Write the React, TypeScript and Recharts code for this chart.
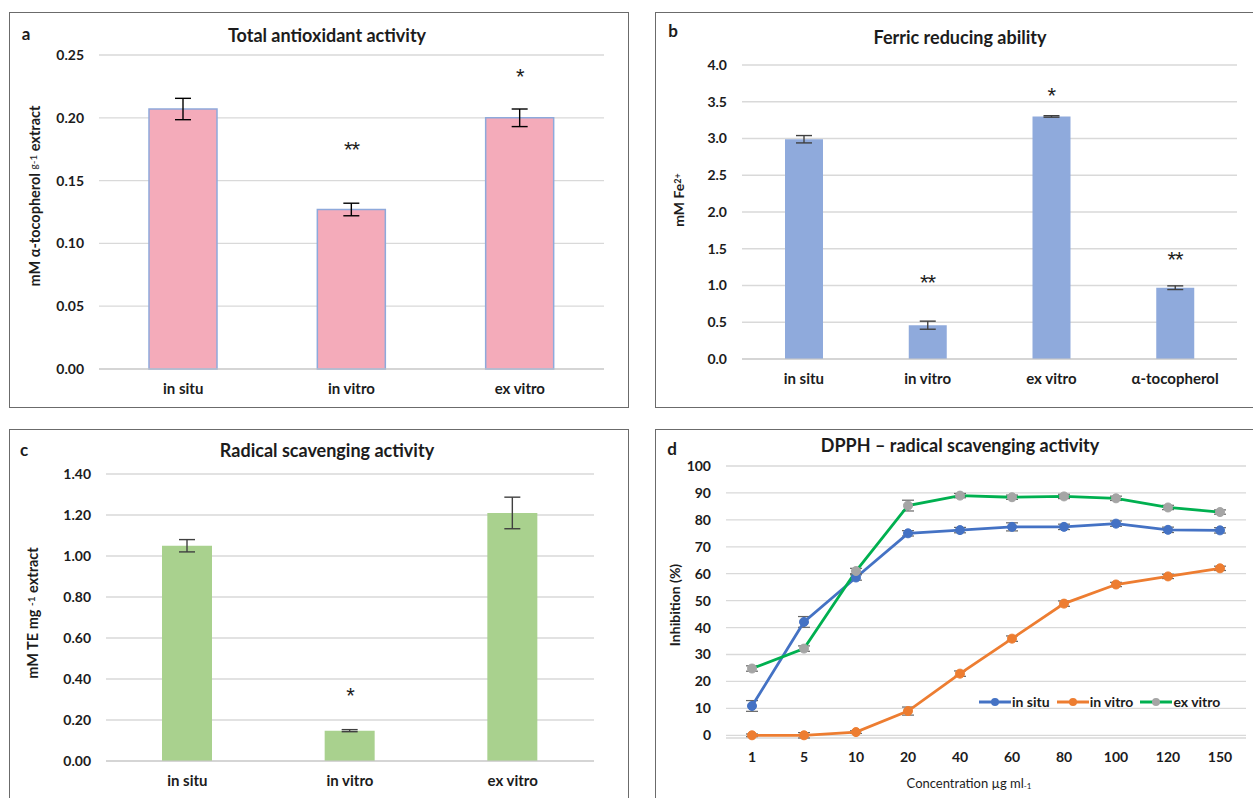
import React from "react";
import {
  ComposedChart,
  Bar,
  Line,
  Scatter,
  XAxis,
  YAxis,
  CartesianGrid,
  ErrorBar,
  Legend,
} from "recharts";

// panel a - total antioxidant activity
const catsA = ["in situ", "in vitro", "ex vitro"];
const valsA = [0.207, 0.127, 0.2];
const errA = [0.0085, 0.005, 0.007];
const starsA = ["", "**", "*"];
const starPosA = [0, 0.177, 0.235];
const ticksA = [0, 0.05, 0.1, 0.15, 0.2, 0.25];

// panel b - ferric reducing ability
const catsB = ["in situ", "in vitro", "ex vitro", "α-tocopherol"];
const valsB = [2.99, 0.46, 3.3, 0.97];
const errB = [0.05, 0.055, 0.01, 0.025];
const starsB = ["", "**", "*", "**"];
const starPosB = [0, 1.07, 3.62, 1.39];
const ticksB = [0, 0.5, 1, 1.5, 2, 2.5, 3, 3.5, 4];

// panel c - radical scavenging activity
const catsC = ["in situ", "in vitro", "ex vitro"];
const valsC = [1.05, 0.148, 1.21];
const errC = [0.03, 0.005, 0.077];
const starsC = ["", "*", ""];
const starPosC = [0, 0.33, 0];
const ticksC = [0, 0.2, 0.4, 0.6, 0.8, 1, 1.2, 1.4];

// panel d - DPPH
const concD = ["1", "5", "10", "20", "40", "60", "80", "100", "120", "150"];
const inSituD = [10.9, 42.1, 58.6, 75.0, 76.2, 77.4, 77.4, 78.6, 76.3, 76.1];
const inSituErr = [2, 2, 1, 1, 1, 1.5, 1, 1, 1, 1];
const inVitroD = [0, 0, 1.2, 9.0, 22.9, 35.9, 48.9, 56.0, 59.0, 62.0];
const inVitroErr = [0.5, 1, 0.5, 1.5, 1, 1, 1, 0.8, 0.8, 0.8];
const exVitroD = [24.8, 32.2, 61.0, 85.3, 89.0, 88.4, 88.7, 88.0, 84.6, 82.9];
const exVitroErr = [1, 1, 1, 2, 0.8, 0.8, 0.8, 0.8, 0.8, 0.8];
const ticksD = [0, 10, 20, 30, 40, 50, 60, 70, 80, 90, 100];

const font = "Lato, 'Liberation Sans', sans-serif";
const txt = "#1c1c1c";
const grid = "#D9D9D9";

const lineSeries = [
  { key: "insitu", err: "insituE", name: "in situ", line: "#4472C4", dot: "#4472C4" },
  { key: "invitro", err: "invitroE", name: "in vitro", line: "#ED7D31", dot: "#ED7D31" },
  { key: "exvitro", err: "exvitroE", name: "ex vitro", line: "#00B050", dot: "#A5A5A5" },
];

const dataD = concD.map((c, i) => ({
  conc: c,
  insitu: inSituD[i],
  insituE: inSituErr[i],
  invitro: inVitroD[i],
  invitroE: inVitroErr[i],
  exvitro: exVitroD[i],
  exvitroE: exVitroErr[i],
}));

const buildBars = (cats: string[], vals: number[], errs: number[], stars: string[], pos: number[]) =>
  cats.map((c, i) => ({ cat: c, v: vals[i], e: errs[i], star: stars[i], sy: pos[i] }));

const StarShape = (props: any) => {
  const { cx, cy, payload } = props;
  if (!payload || !payload.star) return <g />;
  return (
    <text
      x={cx}
      y={cy + 10}
      textAnchor="middle"
      fontSize={22}
      fill={txt}
      fontFamily="'Liberation Sans', sans-serif"
      letterSpacing={-1}
    >
      {payload.star}
    </text>
  );
};

const Abs = ({ x, y, rotate, size = 13, children }: any) => (
  <div
    style={{
      position: "absolute",
      left: x,
      top: y,
      transform: `translate(-50%, -50%)${rotate ? " rotate(-90deg)" : ""}`,
      whiteSpace: "nowrap",
      fontSize: size,
      fontWeight: 700,
      color: txt,
      fontFamily: font,
      lineHeight: 1,
    }}
  >
    {children}
  </div>
);

const Box = ({ left, top, width, height, children }: any) => (
  <div
    style={{
      position: "absolute",
      left,
      top,
      width,
      height,
      border: "1px solid #6b6b6b",
      boxSizing: "border-box",
      background: "#fff",
      overflow: "hidden",
    }}
  >
    {children}
  </div>
);

type BarPanelProps = {
  data: any[];
  width: number;
  height: number;
  margin: any;
  yWidth: number;
  ticks: number[];
  digits: number;
  fill: string;
  stroke?: string;
  barSize: number;
  errColor: string;
};

const BarPanel = ({ data, width, height, margin, yWidth, ticks, digits, fill, stroke, barSize, errColor }: BarPanelProps) => (
  <ComposedChart width={width} height={height} data={data} margin={margin}>
    <CartesianGrid vertical={false} stroke={grid} strokeWidth={1.3} />
    <XAxis
      dataKey="cat"
      height={30}
      tickLine={false}
      axisLine={{ stroke: "#C8C8C8" }}
      tickMargin={8}
      tick={{ fontSize: 15, fontWeight: 700, fill: txt, fontFamily: font }}
    />
    <YAxis
      width={yWidth}
      domain={[ticks[0], ticks[ticks.length - 1]]}
      ticks={ticks}
      tickFormatter={(v: number) => v.toFixed(digits)}
      tickLine={false}
      axisLine={false}
      tickMargin={9}
      tick={{ fontSize: 14, fontWeight: 700, fill: txt, fontFamily: font }}
    />
    <Bar dataKey="v" fill={fill} stroke={stroke} strokeWidth={stroke ? 1.5 : 0} barSize={barSize} isAnimationActive={false}>
      <ErrorBar dataKey="e" width={8} stroke={errColor} strokeWidth={1.4} direction="y" />
    </Bar>
    <Scatter dataKey="sy" shape={StarShape} isAnimationActive={false} />
  </ComposedChart>
);

const LegendContent = () => (
  <div style={{ display: "flex", alignItems: "center", fontFamily: font, fontSize: 14, fontWeight: 700, color: txt }}>
    {lineSeries.map((s) => (
      <div key={s.key} style={{ display: "flex", alignItems: "center", marginRight: 7 }}>
        <svg width={32} height={10}>
          <line x1={0} y1={5} x2={32} y2={5} stroke={s.line} strokeWidth={3} />
          <circle cx={16} cy={5} r={4} fill={s.dot} />
        </svg>
        <span style={{ marginLeft: 1 }}>{s.name}</span>
      </div>
    ))}
  </div>
);

export default function App() {
  const dataA = buildBars(catsA, valsA, errA, starsA, starPosA);
  const dataB = buildBars(catsB, valsB, errB, starsB, starPosB);
  const dataC = buildBars(catsC, valsC, errC, starsC, starPosC);

  return (
    <div style={{ position: "absolute", left: 0, top: 0, width: 1253, height: 798, background: "#fff", overflow: "hidden" }}>
      {/* a */}
      <Box left={9} top={12} width={620} height={396}>
        <BarPanel
          data={dataA}
          width={618}
          height={394}
          margin={{ top: 42, right: 24, bottom: 8, left: 30 }}
          yWidth={59}
          ticks={ticksA}
          digits={2}
          fill="#F4ABBA"
          stroke="#8EA9DB"
          barSize={68}
          errColor="#000"
        />
      </Box>
      <Abs x={26} y={33} size={17}>a</Abs>
      <Abs x={327} y={35} size={18}>Total antioxidant activity</Abs>
      <Abs x={35} y={196} rotate size={14.5}>
        mM α-tocopherol <span style={{ fontSize: 10, fontWeight: 400, verticalAlign: 3 }}>g-1</span> extract
      </Abs>

      {/* b */}
      <Box left={655} top={12} width={600} height={396}>
        <BarPanel
          data={dataB}
          width={598}
          height={394}
          margin={{ top: 52, right: 17, bottom: 18, left: 30 }}
          yWidth={56}
          ticks={ticksB}
          digits={1}
          fill="#8FAADC"
          barSize={38}
          errColor="#404040"
        />
      </Box>
      <Abs x={673} y={30} size={17}>b</Abs>
      <Abs x={960} y={37} size={18}>Ferric reducing ability</Abs>
      <Abs x={679} y={200} rotate size={14}>
        mM Fe<span style={{ fontSize: 9, verticalAlign: 3 }}>2+</span>
      </Abs>

      {/* c */}
      <Box left={9} top={429} width={620} height={380}>
        <BarPanel
          data={dataC}
          width={618}
          height={378}
          margin={{ top: 44, right: 34, bottom: 17, left: 30 }}
          yWidth={66}
          ticks={ticksC}
          digits={2}
          fill="#A9D18E"
          barSize={50}
          errColor="#404040"
        />
      </Box>
      <Abs x={24} y={449} size={17}>c</Abs>
      <Abs x={327} y={450} size={18}>Radical scavenging activity</Abs>
      <Abs x={33} y={613} rotate size={14.5}>
        mM TE mg <span style={{ fontSize: 10, verticalAlign: 3 }}>-1</span> extract
      </Abs>

      {/* d */}
      <Box left={655} top={429} width={600} height={380}>
        <ComposedChart width={598} height={378} data={dataD} margin={{ top: 36, right: 8, bottom: 40, left: 20 }}>
          <CartesianGrid vertical={false} stroke={grid} strokeWidth={1.3} />
          <XAxis
            dataKey="conc"
            height={30}
            tickLine={false}
            axisLine={false}
            tickMargin={8}
            padding={{ left: 26, right: 26 }}
            tick={{ fontSize: 14, fontWeight: 700, fill: txt, fontFamily: font }}
          />
          <YAxis
            width={50}
            domain={[0, 100]}
            ticks={ticksD}
            tickLine={false}
            axisLine={false}
            tickMargin={9}
            tick={{ fontSize: 14, fontWeight: 700, fill: txt, fontFamily: font }}
          />
          {lineSeries.map((s) => (
            <Line
              key={s.key}
              dataKey={s.key}
              name={s.name}
              stroke={s.line}
              strokeWidth={2.8}
              dot={{ r: 4.5, fill: s.dot, stroke: s.dot, strokeWidth: 1 }}
              isAnimationActive={false}
            >
              <ErrorBar dataKey={s.err} width={6} stroke="#666" strokeWidth={1.2} direction="y" />
            </Line>
          ))}
          <Legend
            content={<LegendContent />}
            verticalAlign="middle"
            align="center"
            wrapperStyle={{ position: "absolute", left: 323, top: 263, width: "auto" }}
          />
        </ComposedChart>
      </Box>
      <Abs x={672} y={448} size={17}>d</Abs>
      <Abs x={960} y={445} size={18}>DPPH – radical scavenging activity</Abs>
      <Abs x={675} y={605} rotate size={14}>Inhibition (%)</Abs>
      <Abs x={969} y={783} size={13}>
        <span style={{ fontWeight: 400 }}>
          Concentration µg ml<span style={{ fontSize: 8, verticalAlign: -1 }}>-1</span>
        </span>
      </Abs>
    </div>
  );
}
